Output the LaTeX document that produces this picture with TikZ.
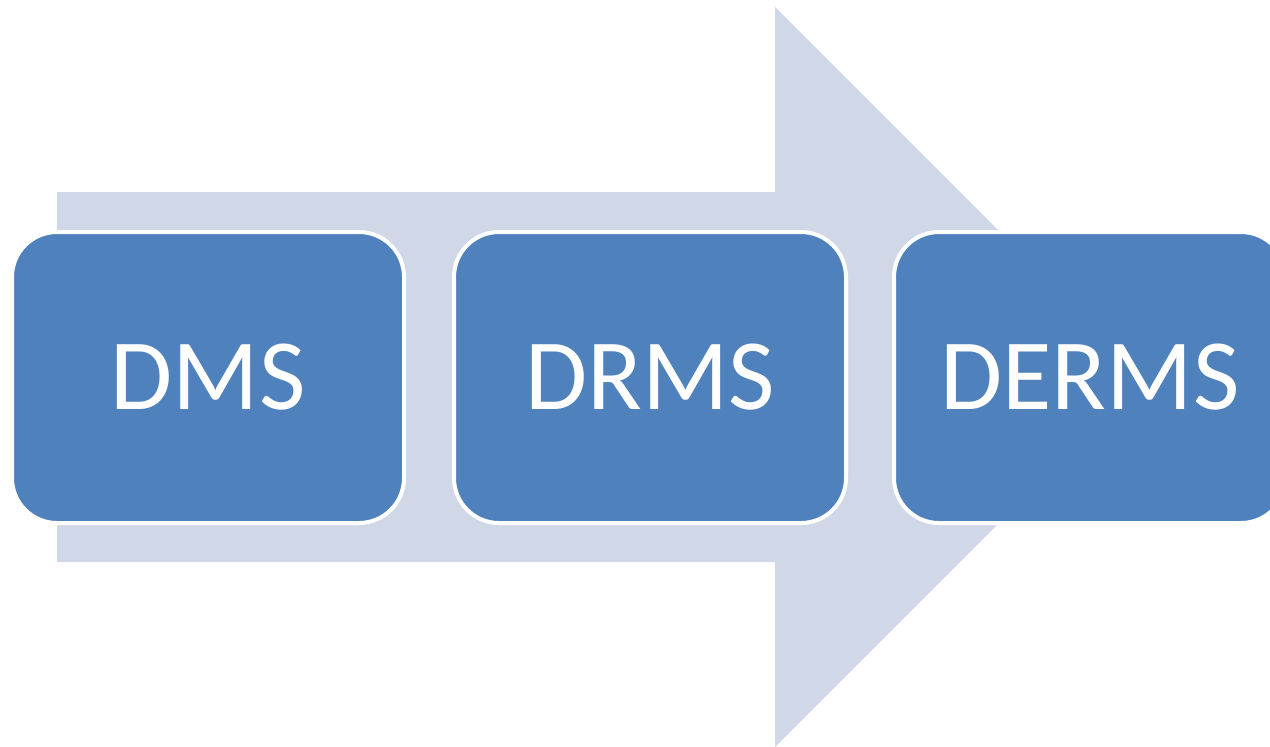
\documentclass[tikz,border=0pt]{standalone}
\usepackage{fontspec}
\setmainfont{Carlito}
\definecolor{arrowfill}{HTML}{D0D8E8}
\definecolor{boxfill}{HTML}{4F81BD}
\begin{document}
\begin{tikzpicture}[x=1pt,y=-1pt,
  stagebox/.style={draw=white, line width=4pt, fill=boxfill, rounded corners=45pt,
    minimum width=392pt, minimum height=291pt, inner sep=0pt, text=white,
    font=\fontsize{101}{101}\selectfont}]
\useasboundingbox (0,0) rectangle (1270,747);
\clip (0,0) rectangle (1270,747);
\fill[arrowfill] (57,192) -- (775,192) -- (775,7) -- (1145,377) -- (775,747) -- (775,562) -- (57,562) -- cycle;
\node[stagebox] (dms) at (208,377.5) {DMS};
\node[stagebox] (drms) at (650,377.5) {DRMS};
\node[stagebox] (derms) at (1090,377.5) {DERMS};
\end{tikzpicture}
\end{document}
